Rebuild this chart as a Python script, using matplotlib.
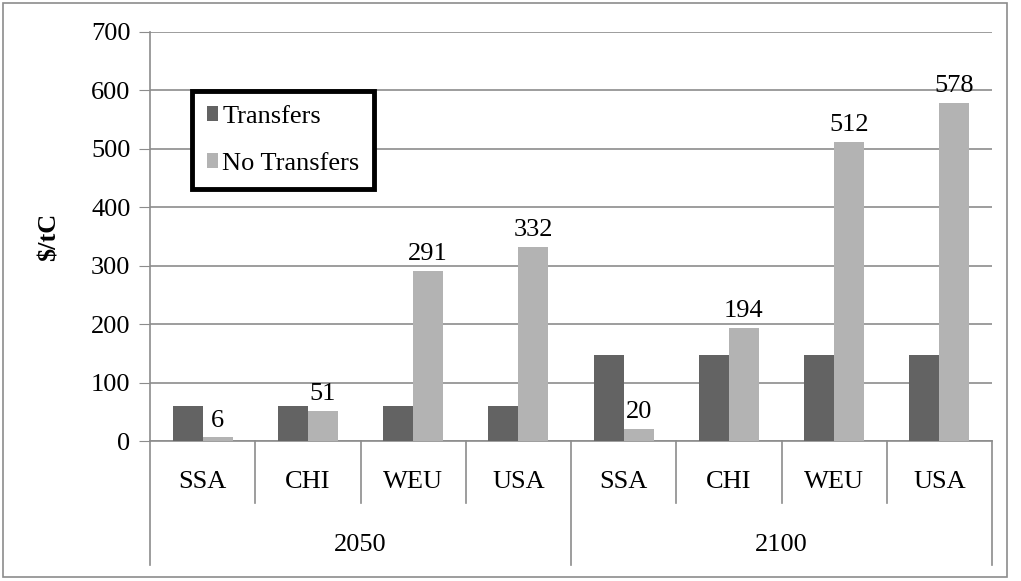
import matplotlib
matplotlib.use("Agg")
import matplotlib.pyplot as plt
import numpy as np
from matplotlib.patches import Rectangle

# Datos
regiones = ["SSA", "CHI", "WEU", "USA", "SSA", "CHI", "WEU", "USA"]
anios = ["2050", "2100"]
transfers = [60, 60, 60, 60, 148, 148, 148, 148]
no_transfers = [6, 51, 291, 332, 20, 194, 512, 578]

plt.rcParams["font.family"] = ["Liberation Serif", "DejaVu Serif"]
gris = "#8c8c8c"
fs = 19

fig = plt.figure(figsize=(10.21, 5.81), dpi=100)
ax = fig.add_axes([150 / 1021, 1 - 441 / 581, 842 / 1021, 409 / 581])

x = np.arange(len(regiones))
ancho = 0.285
ax.bar(x - ancho / 2, transfers, ancho, color="#636363", label="Transfers", zorder=3)
ax.bar(x + ancho / 2, no_transfers, ancho, color="#b3b3b3", label="No Transfers", zorder=3)

# Etiquetas de valor solo en "No Transfers"
for xi, v in zip(x, no_transfers):
    ax.text(xi + ancho / 2, v + 10, str(v), ha="center", va="bottom", fontsize=fs)

ax.set_xlim(-0.5, len(regiones) - 0.5)
ax.set_ylim(0, 700)
ax.set_yticks(range(0, 701, 100))
ax.tick_params(axis="y", labelsize=fs, length=8, color=gris, direction="out", pad=6)
ax.set_xticks([])
ax.yaxis.grid(True, color=gris, linewidth=1.2, zorder=0)
for s in ["top", "right"]:
    ax.spines[s].set_visible(False)
ax.spines["left"].set_color(gris)
ax.spines["bottom"].set_color(gris)
ax.spines["left"].set_linewidth(1.2)
ax.spines["bottom"].set_linewidth(1.2)

ax.set_ylabel("$/tC", fontsize=fs, fontweight="bold", labelpad=22)

# Eje de categorías en dos niveles
tr = ax.get_xaxis_transform()
for i, r in enumerate(regiones):
    ax.text(i, -0.1, r, transform=tr, ha="center", va="center", fontsize=fs)
for b in np.arange(-0.5, len(regiones), 1):
    largo = 0.303 if b in (-0.5, 3.5, 7.5) else 0.152
    ax.plot([b, b], [0, -largo], transform=tr, color=gris, linewidth=1.2, clip_on=False)
for j, a in enumerate(anios):
    ax.text(1.5 + 4 * j, -0.254, a, transform=tr, ha="center", va="center", fontsize=fs)

leg = ax.legend(loc="upper left", bbox_to_anchor=(0.05, 0.855), fontsize=fs,
                handlelength=0.45, handleheight=0.45, handletextpad=0.15,
                labelspacing=0.95, borderpad=0.55, borderaxespad=0,
                fancybox=False, framealpha=1)
leg.get_frame().set_edgecolor("black")
leg.get_frame().set_linewidth(3.5)

# Marco exterior
fig.patches.append(Rectangle((3 / 1021, 4 / 581), 1004 / 1021, 574 / 581,
                             transform=fig.transFigure, fill=False,
                             edgecolor=gris, linewidth=1.2))

plt.savefig("out.png", dpi=100)
